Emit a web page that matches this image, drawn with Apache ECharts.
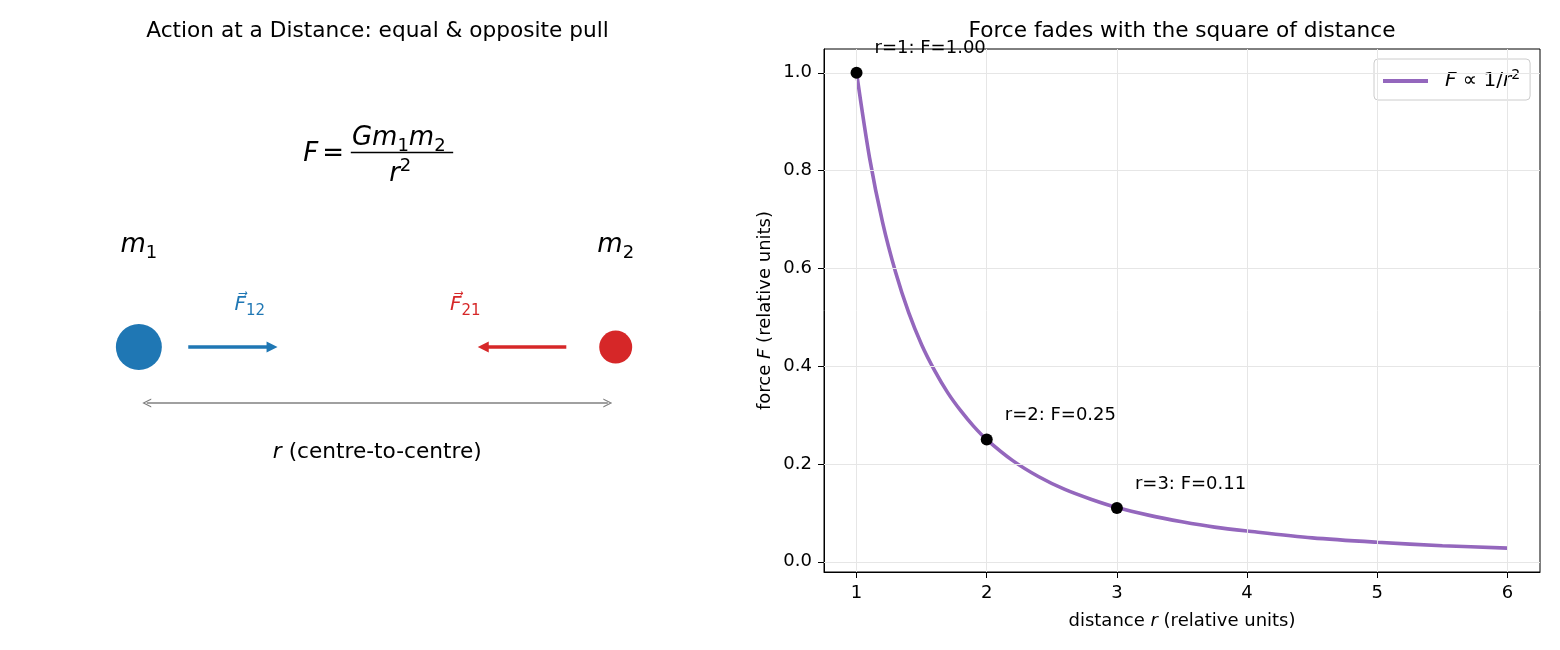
<!DOCTYPE html>
<html><head><meta charset="utf-8">
<script src="https://cdn.jsdelivr.net/npm/echarts@6/dist/echarts.min.js"></script>
<style>html,body{margin:0;padding:0;background:#fff}#c{width:1560px;height:650px}</style>
</head><body><div id="c"></div>
<script>
// ---------- right panel data ----------
const curveR = [1.0,1.1,1.2,1.3,1.4,1.5,1.6,1.7,1.8,1.9,2.0,2.2,2.4,2.6,2.8,3.0,3.25,3.5,3.75,4.0,4.5,5.0,5.5,6.0];
const curveF = [1.000,0.826,0.694,0.592,0.510,0.444,0.391,0.346,0.309,0.277,0.250,0.207,0.174,0.148,0.128,0.111,0.095,0.082,0.071,0.063,0.049,0.040,0.033,0.028];
const markR = [1, 2, 3];
const markF = [1.00, 0.25, 0.11];
const xTicks = [1, 2, 3, 4, 5, 6];
const yTicks = [0.0, 0.2, 0.4, 0.6, 0.8, 1.0];
const leftTitle = 'Action at a Distance: equal & opposite pull';
const rightTitle = 'Force fades with the square of distance';
const seriesName = 'F ∝ 1/r²';

// ---------- left diagram data (diagram units, 0..10 both ways) ----------
const massX = [1.66, 8.32];
const massY = [4.30, 4.30];
const massLabelX = [1.66, 8.32];
const massLabelY = [6.25, 6.25];
const massIndex = ['1', '2'];
const forceStart = [[2.35, 4.30], [7.63, 4.30]];
const forceEnd = [[3.52, 4.30], [6.47, 4.30]];
const forceLabelX = [3.21, 6.22];
const forceLabelY = [5.10, 5.10];
const forceIndex = ['12', '21'];
const distStart = [1.77, 3.23];
const distEnd = [8.21, 3.23];
const distLabel = [4.99, 2.28];
const formulaLhs = [4.24, 7.99];
const formulaNum = [5.29, 8.30];
const formulaDen = [5.31, 7.60];
const fracBarStart = [4.62, 8.03];
const fracBarEnd = [6.05, 8.03];

// ---------- styles ----------
const FF = 'DejaVu Sans';
const massColors = ['#1f77b4', '#d62728'];
const massSizes = [46, 33];
const purple = '#9467bd';
const chevron = 'path://M0,10 L5,0 L10,10 L8.6,10 L5,2.8 L1.4,10 Z';
const triHead = 'path://M5,0 L10,10 L0,10 Z';

const richMath = {
  mi: {fontFamily: FF, fontStyle: 'italic', fontSize: 26, lineHeight: 34, color: '#000'},
  mr: {fontFamily: FF, fontSize: 26, lineHeight: 34, color: '#000', padding: [0, 0, 0, 4]},
  msub: {fontFamily: FF, fontSize: 18, lineHeight: 18, verticalAlign: 'bottom', color: '#000'},
  msup: {fontFamily: FF, fontSize: 18, lineHeight: 18, verticalAlign: 'top', color: '#000'}
};

function textPoint(pos, formatter, extra) {
  return {value: pos, label: Object.assign({show: true, formatter: formatter, color: '#000', opacity: 1, textBorderWidth: 0}, extra || {})};
}

const textData = [];
massIndex.forEach((k, i) => {
  textData.push(textPoint([massLabelX[i], massLabelY[i]], '{mi|m}{msub|' + k + '}', {rich: richMath}));
});
forceIndex.forEach((k, i) => {
  const c = massColors[i];
  textData.push(textPoint([forceLabelX[i], forceLabelY[i]], '{fi|F\u20D7}{fs|' + k + '}', {
    color: c,
    rich: {
      fi: {fontFamily: FF, fontStyle: 'italic', fontSize: 20, lineHeight: 26, color: c},
      fs: {fontFamily: FF, fontSize: 15, lineHeight: 15, verticalAlign: 'bottom', color: c}
    }
  }));
});
textData.push(textPoint(formulaLhs, '{mi|F}{mr|=}', {rich: richMath}));
textData.push(textPoint(formulaNum, '{mi|Gm}{msub|1}{mi|m}{msub|2}', {rich: richMath}));
textData.push(textPoint(formulaDen, '{mi|r}{msup|2}', {rich: richMath}));
textData.push(textPoint(distLabel, '{ri|r}{rr| (centre-to-centre)}', {
  rich: {
    ri: {fontFamily: FF, fontStyle: 'italic', fontSize: 21.67, color: '#000'},
    rr: {fontFamily: FF, fontSize: 21.67, color: '#000'}
  }
}));

const chart = echarts.init(document.getElementById('c'), null, {renderer: 'canvas'});
const option = {
  animation: false,
  backgroundColor: '#fff',
  textStyle: {fontFamily: FF},
  title: [
    {text: leftTitle, left: 377.5, top: 20, textAlign: 'center', padding: 0,
     textStyle: {fontFamily: FF, fontSize: 21.67, fontWeight: 'normal', color: '#000'}},
    {text: rightTitle, left: 1182, top: 20, textAlign: 'center', padding: 0,
     textStyle: {fontFamily: FF, fontSize: 21.67, fontWeight: 'normal', color: '#000'}}
  ],
  legend: {
    data: [seriesName],
    left: 1374, top: 59,
    padding: [9, 10, 9, 9],
    borderColor: '#cccccc', borderWidth: 1, borderRadius: 4,
    backgroundColor: 'rgba(255,255,255,0.8)',
    icon: 'rect', itemWidth: 45, itemHeight: 4,
    itemStyle: {color: purple},
    formatter: () => '{li|F}{lr| ∝ 1/}{li|r}{ls|2}',
    textStyle: {
      color: '#000',
      rich: {
        li: {fontFamily: FF, fontStyle: 'italic', fontSize: 20, lineHeight: 26, color: '#000'},
        lr: {fontFamily: FF, fontSize: 20, lineHeight: 26, color: '#000'},
        ls: {fontFamily: FF, fontSize: 14, lineHeight: 14, verticalAlign: 'top', color: '#000'}
      },
      padding: [0, 0, 0, 12]
    }
  },
  grid: [
    {left: 20, top: 49, width: 716, height: 523, show: false, outerBoundsMode: 'none'},
    {left: 824, top: 49, width: 716, height: 523, show: true, borderColor: '#000', borderWidth: 1,
     backgroundColor: 'transparent', outerBoundsMode: 'none'}
  ],
  xAxis: [
    {gridIndex: 0, type: 'value', min: 0, max: 10, show: false},
    {gridIndex: 1, type: 'value', min: 0.75, max: 6.25,
     name: '{n|distance }{ni|r}{n| (relative units)}', nameLocation: 'middle', nameGap: 40,
     nameTextStyle: {rich: {
       n: {fontFamily: FF, fontSize: 18, color: '#000'},
       ni: {fontFamily: FF, fontSize: 18, fontStyle: 'italic', color: '#000'}}},
     axisLine: {show: true, onZero: false, lineStyle: {color: '#000', width: 1}},
     axisTick: {show: true, length: 6, customValues: xTicks, lineStyle: {color: '#000', width: 1}},
     axisLabel: {show: true, customValues: xTicks, margin: 12, fontFamily: FF, fontSize: 18, color: '#000',
                 formatter: v => String(v)},
     splitLine: {show: false}}
  ],
  yAxis: [
    {gridIndex: 0, type: 'value', min: 0, max: 10, show: false},
    {gridIndex: 1, type: 'value', min: -0.0208, max: 1.0486,
     name: '{n|force }{ni|F}{n| (relative units)}', nameLocation: 'middle', nameGap: 50, nameRotate: 90,
     nameTextStyle: {rich: {
       n: {fontFamily: FF, fontSize: 18, color: '#000'},
       ni: {fontFamily: FF, fontSize: 18, fontStyle: 'italic', color: '#000'}}},
     axisLine: {show: true, onZero: false, lineStyle: {color: '#000', width: 1}},
     axisTick: {show: true, length: 6, customValues: yTicks, lineStyle: {color: '#000', width: 1}},
     axisLabel: {show: true, customValues: yTicks, margin: 12, fontFamily: FF, fontSize: 18, color: '#000',
                 formatter: v => v.toFixed(1)},
     splitLine: {show: false}}
  ],
  series: [
    // masses
    {type: 'scatter', xAxisIndex: 0, yAxisIndex: 0, silent: true, z: 3,
     data: massX.map((x, i) => ({value: [x, massY[i]], symbolSize: massSizes[i], itemStyle: {color: massColors[i], opacity: 1}}))},
    // force arrows
    {type: 'lines', coordinateSystem: 'cartesian2d', xAxisIndex: 0, yAxisIndex: 0, silent: true, z: 3,
     symbol: ['none', triHead], symbolSize: [10, 11],
     lineStyle: {width: 3.5, opacity: 1, curveness: 0},
     data: forceStart.map((s, i) => ({coords: [s, forceEnd[i]], lineStyle: {color: massColors[i], width: 3.5, opacity: 1}}))},
    // distance double arrow
    {type: 'lines', coordinateSystem: 'cartesian2d', xAxisIndex: 0, yAxisIndex: 0, silent: true, z: 3,
     symbol: [chevron, chevron], symbolSize: [9, 9],
     lineStyle: {width: 1.5, opacity: 1, color: '#808080', curveness: 0},
     data: [{coords: [distStart, distEnd]}]},
    // fraction bar
    {type: 'lines', coordinateSystem: 'cartesian2d', xAxisIndex: 0, yAxisIndex: 0, silent: true, z: 3,
     symbol: ['none', 'none'],
     lineStyle: {width: 1.3, opacity: 1, color: '#000', curveness: 0},
     data: [{coords: [fracBarStart, fracBarEnd]}]},
    // texts
    {type: 'scatter', xAxisIndex: 0, yAxisIndex: 0, silent: true, z: 4,
     symbolSize: 1, itemStyle: {color: 'transparent', opacity: 1},
     label: {show: true, position: 'inside', align: 'center', verticalAlign: 'middle', color: '#000'},
     data: textData},
    // grid lines (right)
    {type: 'line', xAxisIndex: 1, yAxisIndex: 1, silent: true, z: 1,
     data: curveR.map((r, i) => [r, curveF[i]]), symbol: 'none', lineStyle: {opacity: 0},
     markLine: {silent: true, symbol: ['none', 'none'], label: {show: false},
       lineStyle: {type: 'solid', color: '#e6e6e6', width: 1},
       data: xTicks.map(v => ({xAxis: v})).concat(yTicks.map(v => ({yAxis: v})))}},
    // curve
    {name: seriesName, type: 'line', xAxisIndex: 1, yAxisIndex: 1, z: 2,
     data: curveR.map((r, i) => [r, curveF[i]]), symbol: 'none', smooth: 0.3,
     lineStyle: {color: purple, width: 3.6}, itemStyle: {color: purple}},
    // marked points
    {type: 'scatter', xAxisIndex: 1, yAxisIndex: 1, z: 5, symbolSize: 12,
     itemStyle: {color: '#000', opacity: 1},
     label: {show: true, position: 'inside', align: 'left', verticalAlign: 'middle', offset: [18, -24],
             fontFamily: FF, fontSize: 18, color: '#000',
             formatter: p => 'r=' + p.value[0] + ': F=' + p.value[1].toFixed(2)},
     data: markR.map((r, i) => [r, markF[i]])}
  ]
};
chart.setOption(option);
</script>
</body></html>
